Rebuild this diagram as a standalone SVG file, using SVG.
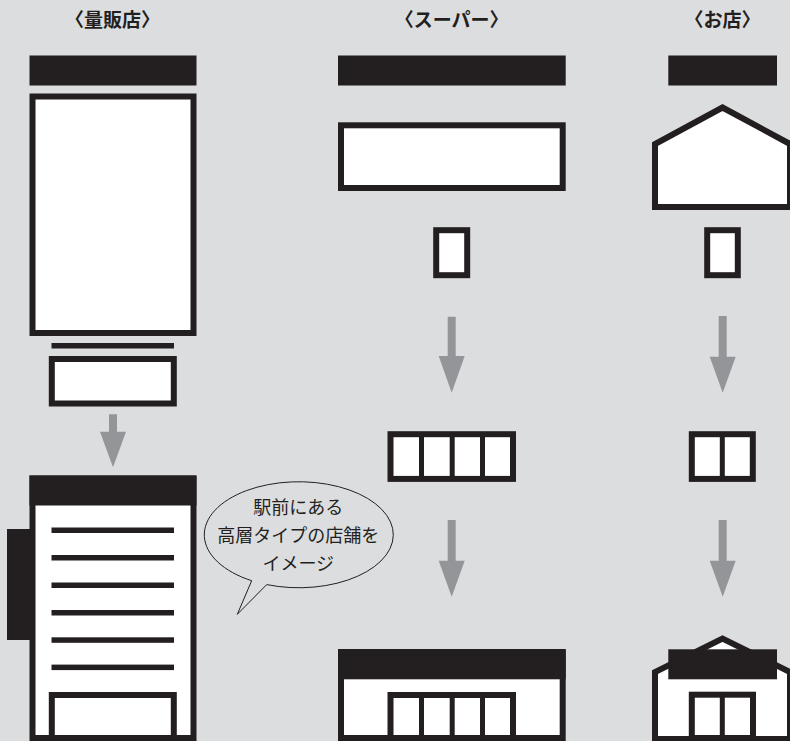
<svg xmlns="http://www.w3.org/2000/svg" width="790" height="741" viewBox="0 0 790 741">
  <style>
    .bg { fill: #dcdddf; }
    .ink { fill: #231f20; }
    .box { fill: #ffffff; stroke: #231f20; stroke-width: 6; stroke-linejoin: miter; }
    .pane { fill: none; stroke: #231f20; stroke-width: 5; }
    .floor { fill: #231f20; }
    .title { font-family: "Noto Sans CJK JP", "Noto Sans", sans-serif; font-weight: 700; font-size: 19px; fill: #231f20; text-anchor: middle; }
    .note { font-family: "Noto Sans CJK JP", "Noto Sans", sans-serif; font-size: 18px; fill: #231f20; text-anchor: middle; }
    .bubble { fill: none; stroke: #231f20; stroke-width: 1; stroke-linejoin: miter; }
    .arrow { fill: #939598; }
  </style>

  <rect class="bg" x="0" y="0" width="790" height="741"/>

  <!-- column headings -->
  <g id="headings">
    <text class="title" x="112.5" y="27">〈量販店〉</text>
    <text class="title" x="451.7" y="27">〈スーパー〉</text>
    <text class="title" x="722.5" y="27">〈お店〉</text>
  </g>

  <!-- mass retailer: before -->
  <g id="retailer-before">
    <rect class="ink" x="29.5" y="55.5" width="167" height="30"/>
    <rect class="box" x="32.5" y="96.5" width="161" height="236.5"/>
    <rect class="ink" x="51.5" y="343" width="122.5" height="5.5"/>
    <rect class="box" x="51.8" y="359" width="122" height="44.5" stroke-width="5.6"/>
  </g>

  <!-- mass retailer: after (station-front high-rise) -->
  <g id="retailer-after">
    <rect class="ink" x="7" y="529" width="24" height="111"/>
    <rect class="box" x="32.5" y="478.5" width="161" height="259.5"/>
    <rect class="ink" x="29.5" y="475.5" width="167" height="30"/>
    <g class="floor">
      <rect x="51.5" y="527.5" width="122.5" height="5.5"/>
      <rect x="51.5" y="555" width="122.5" height="5.5"/>
      <rect x="51.5" y="582.5" width="122.5" height="5.5"/>
      <rect x="51.5" y="610" width="122.5" height="5.5"/>
      <rect x="51.5" y="637.3" width="122.5" height="5.5"/>
      <rect x="51.5" y="664.6" width="122.5" height="5.5"/>
    </g>
    <rect class="box" x="51.8" y="695" width="122" height="43" stroke-width="5.6"/>
  </g>

  <!-- speech bubble -->
  <g id="bubble">
    <path class="bubble" d="M251.7,580.7 L237.3,614.3 L266.7,584.6 A94.5,53 0 1 0 251.7,580.7"/>
    <text class="note" x="298.3" y="513.5">駅前にある</text>
    <text class="note" x="298.3" y="541.5">高層タイプの店舗を</text>
    <text class="note" x="298.3" y="569.5">イメージ</text>
  </g>

  <!-- supermarket: before -->
  <g id="super-before">
    <rect class="ink" x="338" y="55.5" width="227.7" height="30"/>
    <rect class="box" x="341" y="125.3" width="221.7" height="62.7"/>
    <rect class="box" x="436.2" y="230.2" width="31" height="45" stroke-width="5.8"/>
  </g>

  <!-- supermarket: widened entrance -->
  <g id="super-door">
    <rect class="box" x="390.5" y="434.2" width="122.5" height="44.7" stroke-width="5.7"/>
    <line class="pane" x1="421.5" y1="434" x2="421.5" y2="479"/>
    <line class="pane" x1="452.2" y1="434" x2="452.2" y2="479"/>
    <line class="pane" x1="482.5" y1="434" x2="482.5" y2="479"/>
  </g>

  <!-- supermarket: after -->
  <g id="super-after">
    <rect class="box" x="341" y="652" width="221.7" height="86"/>
    <rect class="ink" x="338" y="649.3" width="227.7" height="30"/>
    <rect class="box" x="390.5" y="695" width="122.5" height="43" stroke-width="5.7"/>
    <line class="pane" x1="421.5" y1="695" x2="421.5" y2="738"/>
    <line class="pane" x1="452.2" y1="695" x2="452.2" y2="738"/>
    <line class="pane" x1="482.5" y1="695" x2="482.5" y2="738"/>
  </g>

  <!-- small shop: before -->
  <g id="shop-before">
    <rect class="ink" x="668.3" y="55.5" width="108.7" height="30"/>
    <path class="box" d="M655,207 L655,144 L722.5,107.5 L790,144 L790,207 Z"/>
    <rect class="box" x="707.2" y="230.2" width="30.6" height="45" stroke-width="5.8"/>
  </g>

  <!-- small shop: widened entrance -->
  <g id="shop-door">
    <rect class="box" x="691.8" y="434.2" width="61" height="44.7" stroke-width="5.5"/>
    <line class="pane" x1="722.3" y1="434" x2="722.3" y2="479" stroke-width="5.3"/>
  </g>

  <!-- small shop: after -->
  <g id="shop-after">
    <path class="box" d="M655,741 L655,672 L722.5,638.5 L790,672 L790,741"/>
    <rect class="ink" x="668.3" y="649.3" width="108.7" height="30"/>
    <rect class="box" x="691.8" y="694.7" width="61.2" height="43.3" stroke-width="5.5"/>
    <line class="pane" x1="722.3" y1="694.7" x2="722.3" y2="738" stroke-width="5.3"/>
    <rect class="ink" x="652" y="736" width="141" height="5"/>
  </g>

  <!-- transition arrows -->
  <g id="connectors">
    <path class="arrow" d="M109,414.3 H117 V431.7 H126 L113,467.3 L100,431.7 H109 Z"/>
    <path class="arrow" d="M447.7,316.7 H455.7 V356 H464.7 L451.7,392.7 L438.7,356 H447.7 Z"/>
    <path class="arrow" d="M447.7,520 H455.7 V560.7 H464.7 L451.7,596.7 L438.7,560.7 H447.7 Z"/>
    <path class="arrow" d="M718.7,316 H726.7 V356.7 H735.7 L722.7,392.7 L709.7,356.7 H718.7 Z"/>
    <path class="arrow" d="M718.7,520 H726.7 V560.7 H735.7 L722.7,596.7 L709.7,560.7 H718.7 Z"/>
  </g>
</svg>
